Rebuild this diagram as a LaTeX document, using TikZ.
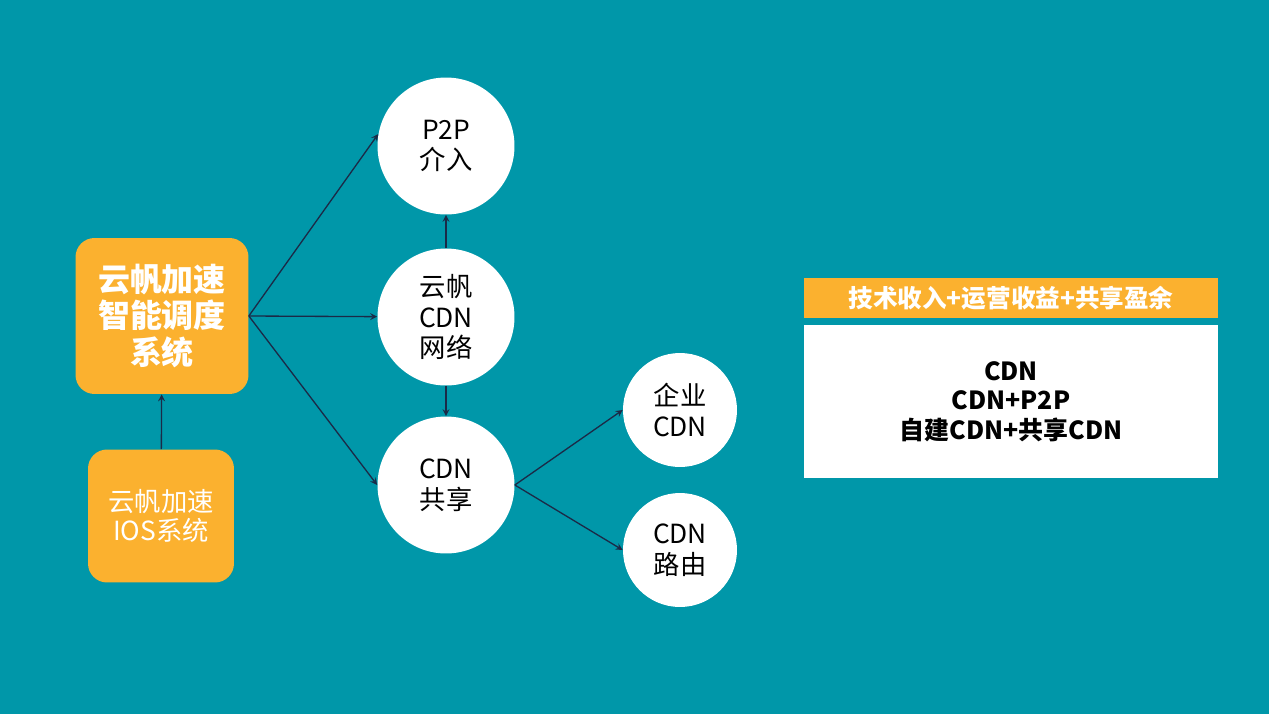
\documentclass[tikz,border=0pt]{standalone}
\usepackage{fontspec}
\setmainfont{Noto Sans CJK SC}
\usepackage{tikz}
\usetikzlibrary{arrows.meta}
\usepackage{xcolor}
\definecolor{bgteal}{HTML}{0097A9}
\definecolor{boxorange}{HTML}{FBB12F}
\definecolor{arrowblue}{HTML}{1B2A47}

\begin{document}
\begin{tikzpicture}[>=stealth, x=0.02cm, y=-0.02cm,
  bubble/.style={circle, fill=white, inner sep=0pt, align=center,
    font=\fontsize{15}{17.5}\selectfont},
  small bubble/.style={bubble, minimum size=2.28cm},
  big bubble/.style={bubble, minimum size=2.74cm},
  sysbox/.style={rectangle, rounded corners=0.38cm, fill=boxorange, text=white,
    inner sep=0pt, align=center},
  link/.style={->, draw=arrowblue, line width=0.75pt}]
  \fill[bgteal] (0,0) rectangle (1269,714);
  \node[sysbox, minimum width=3.46cm, minimum height=3.12cm,
    font=\bfseries\fontsize{18.2}{20.5}\selectfont] (sys) at (162,316)
    {云帆加速\\智能调度\\系统};
  \node[sysbox, minimum width=2.92cm, minimum height=2.66cm,
    font=\fontsize{15}{16.5}\selectfont] (ios) at (161,516)
    {云帆加速\\IOS系统};
  \node[big bubble] (p2p) at (446,146) {P2P\\介入};
  \node[big bubble] (cdn) at (446,317) {云帆\\CDN\\网络};
  \node[big bubble] (share) at (446,485) {CDN\\共享};
  \node[small bubble] (ent) at (680,410) {企业\\CDN};
  \node[small bubble] (route) at (680,550) {CDN\\路由};
  \node[rectangle, fill=boxorange, text=white, inner sep=0pt,
    minimum width=8.28cm, minimum height=0.8cm,
    font=\bfseries\fontsize{14}{16}\selectfont] (income) at (1011,298)
    {技术收入+运营收益+共享盈余};
  \node[rectangle, fill=white, inner sep=0pt, align=center,
    minimum width=8.28cm, minimum height=3.06cm,
    font=\bfseries\fontsize{14.2}{16.7}\selectfont] (modes) at (1011,401.5)
    {CDN\\CDN+P2P\\自建CDN+共享CDN};
  \draw[link] (ios) -- (sys);
  \draw[link] (sys.east) -- (p2p.170);
  \draw[link] (sys.east) -- (cdn);
  \draw[link] (sys.east) -- (share.west);
  \draw[link] (cdn) -- (p2p);
  \draw[link] (cdn) -- (share);
  \draw[link] (share.east) -- (ent.west);
  \draw[link] (share.east) -- (route.west);
\end{tikzpicture}
\end{document}
